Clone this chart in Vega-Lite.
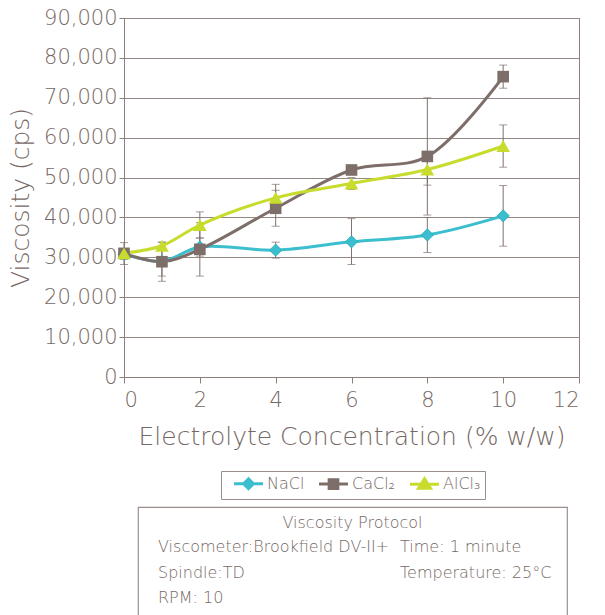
{
  "$schema": "https://vega.github.io/schema/vega-lite/v6.json",
  "background": "white",
  "padding": {"left": 8, "top": 6, "right": 5, "bottom": 0},
  "config": {
    "font": "DejaVu Sans",
    "view": {"stroke": null},
    "axis": {
      "labelColor": "#766864",
      "titleColor": "#766864",
      "domainColor": "#8c7f7b",
      "tickColor": "#8c7f7b",
      "gridColor": "#948885",
      "labelFontWeight": 200,
      "titleFontWeight": 200
    },
    "axisY": {
      "values": [0, 10000, 20000, 30000, 40000, 50000, 60000, 70000, 80000, 90000],
      "labelExpr": "format(datum.value, ',')",
      "grid": true,
      "gridWidth": 1.2,
      "labelFontSize": 21,
      "titleFontSize": 25,
      "tickSize": 5,
      "labelPadding": 2,
      "titlePadding": 10
    },
    "legend": {"labelColor": "#766864", "labelFontWeight": 200},
    "title": {"color": "#766864", "fontWeight": 200}
  },
  "spacing": 56,
  "vconcat": [
    {
      "width": 455,
      "height": 359,
      "view": {"stroke": "#8c7f7b", "strokeWidth": 1},
      "data": {
        "values": [
          {"series": "NaCl", "conc": 0, "visc": 30800, "lo": 29500, "hi": 32100},
          {"series": "NaCl", "conc": 1, "visc": 29000, "lo": 25300, "hi": 32700},
          {"series": "NaCl", "conc": 2, "visc": 32600, "lo": 30300, "hi": 34900},
          {"series": "NaCl", "conc": 4, "visc": 31800, "lo": 29800, "hi": 33800},
          {"series": "NaCl", "conc": 6, "visc": 33900, "lo": 28200, "hi": 39700},
          {"series": "NaCl", "conc": 8, "visc": 35600, "lo": 31200, "hi": 40000},
          {"series": "NaCl", "conc": 10, "visc": 40400, "lo": 32800, "hi": 48000},
          {"series": "CaCl₂", "conc": 0, "visc": 31000, "lo": 28200, "hi": 33700},
          {"series": "CaCl₂", "conc": 1, "visc": 28900, "lo": 24000, "hi": 33800},
          {"series": "CaCl₂", "conc": 2, "visc": 32000, "lo": 25300, "hi": 38700},
          {"series": "CaCl₂", "conc": 4, "visc": 42300, "lo": 37800, "hi": 46800},
          {"series": "CaCl₂", "conc": 6, "visc": 51900, "lo": 51400, "hi": 52400},
          {"series": "CaCl₂", "conc": 8, "visc": 55300, "lo": 40600, "hi": 70000},
          {"series": "CaCl₂", "conc": 10, "visc": 75300, "lo": 72400, "hi": 78200},
          {"series": "AlCl₃", "conc": 0, "visc": 31000, "lo": 30200, "hi": 31800},
          {"series": "AlCl₃", "conc": 1, "visc": 32900, "lo": 32000, "hi": 33800},
          {"series": "AlCl₃", "conc": 2, "visc": 38100, "lo": 34800, "hi": 41400},
          {"series": "AlCl₃", "conc": 4, "visc": 44900, "lo": 41500, "hi": 48300},
          {"series": "AlCl₃", "conc": 6, "visc": 48500, "lo": 47000, "hi": 50000},
          {"series": "AlCl₃", "conc": 8, "visc": 52000, "lo": 48100, "hi": 55900},
          {"series": "AlCl₃", "conc": 10, "visc": 57900, "lo": 52600, "hi": 63200}
        ]
      },
      "encoding": {
        "x": {
          "field": "conc",
          "type": "quantitative",
          "title": "Electrolyte Concentration (% w/w)",
          "scale": {"domain": [0, 12], "nice": false},
          "axis": {
            "values": [0, 2, 4, 6, 8, 10, 12],
            "grid": false,
            "labelFontSize": 21,
            "titleFontSize": 25,
            "tickSize": 6,
            "labelPadding": 6,
            "titlePadding": 14
          }
        }
      },
      "layer": [
        {
          "mark": {"type": "rule", "color": "#7f716d", "strokeWidth": 1},
          "encoding": {
            "y": {"field": "lo", "type": "quantitative", "title": "Viscosity (cps)", "scale": {"domain": [0, 90000], "nice": false}},
            "y2": {"field": "hi"}
          }
        },
        {
          "mark": {"type": "tick", "orient": "horizontal", "color": "#7f716d", "size": 8, "thickness": 1},
          "encoding": {
            "y": {"field": "lo", "type": "quantitative", "title": "Viscosity (cps)"}
          }
        },
        {
          "mark": {"type": "tick", "orient": "horizontal", "color": "#7f716d", "size": 8, "thickness": 1},
          "encoding": {
            "y": {"field": "hi", "type": "quantitative", "title": "Viscosity (cps)"}
          }
        },
        {
          "mark": {"type": "line", "interpolate": "catmull-rom", "strokeWidth": 3},
          "encoding": {
            "y": {"field": "visc", "type": "quantitative", "title": "Viscosity (cps)"},
            "color": {
              "field": "series",
              "type": "nominal",
              "sort": ["NaCl", "CaCl₂", "AlCl₃"],
              "scale": {"domain": ["NaCl", "CaCl₂", "AlCl₃"], "range": ["#3bbfcf", "#7d6e69", "#c8dc2e"]},
              "legend": {
                "title": null,
                "orient": "none",
                "legendX": 97,
                "legendY": 453,
                "direction": "horizontal",
                "strokeColor": "#9a8e8a",
                "padding": 4,
                "labelFontSize": 16,
                "labelOffset": 10,
                "symbolOffset": 15,
                "columnPadding": 5,
                "symbolSize": 196,
                "symbolStrokeWidth": 3,
                "encode": {
                  "symbols": {
                    "update": {
                      "shape": {"signal": "datum.value === 'NaCl' ? 'M-2.07,0H2.07M0,-0.7L0.7,0L0,0.7L-0.7,0Z' : datum.value === 'AlCl₃' ? 'M-2.07,0H2.07M0,-0.75L0.85,0.6H-0.85Z' : 'M-2.07,0H2.07M-0.62,-0.62H0.62V0.62H-0.62Z'"},
                      "fill": {"signal": "datum.value === 'NaCl' ? '#3bbfcf' : datum.value === 'AlCl₃' ? '#c8dc2e' : '#7d6e69'"},
                      "fillOpacity": {"value": 1}
                    }
                  }
                }
              }
            }
          }
        },
        {
          "transform": [{"filter": "datum.series === 'NaCl'"}],
          "mark": {"type": "point", "filled": true, "opacity": 1, "shape": "diamond", "size": 150, "color": "#3bbfcf", "stroke": "#2aa8b8", "strokeWidth": 0.8},
          "encoding": {"y": {"field": "visc", "type": "quantitative", "title": "Viscosity (cps)"}}
        },
        {
          "transform": [{"filter": "datum.series === 'CaCl₂'"}],
          "mark": {"type": "point", "filled": true, "opacity": 1, "shape": "square", "size": 135, "color": "#7d6e69"},
          "encoding": {"y": {"field": "visc", "type": "quantitative", "title": "Viscosity (cps)"}}
        },
        {
          "transform": [{"filter": "datum.series === 'AlCl₃'"}],
          "mark": {"type": "point", "filled": true, "opacity": 1, "shape": "triangle-up", "size": 190, "color": "#c8dc2e"},
          "encoding": {"y": {"field": "visc", "type": "quantitative", "title": "Viscosity (cps)"}}
        }
      ]
    },
    {
      "spacing": 12,
      "hconcat": [
        {
          "width": 1,
          "height": 110,
          "data": {"values": []},
          "mark": "text"
        },
        {
          "width": 429,
          "height": 110,
          "view": {"stroke": "#9a8e8a", "strokeWidth": 1.2},
          "title": {"text": "Viscosity Protocol", "orient": "top", "anchor": "middle", "frame": "group", "offset": -40, "fontSize": 16, "baseline": "bottom"},
          "data": {
            "values": [
              {"text": "Viscometer:Brookfield DV-II+", "col": "left", "line": 1},
              {"text": "Time: 1 minute", "col": "right", "line": 1},
              {"text": "Spindle:TD", "col": "left", "line": 2},
              {"text": "Temperature: 25°C", "col": "right", "line": 2},
              {"text": "RPM: 10", "col": "left", "line": 3}
            ]
          },
          "mark": {"type": "text", "align": "left", "baseline": "middle", "fontSize": 16, "color": "#766864", "fontWeight": 200},
          "encoding": {
            "x": {"field": "col", "type": "nominal", "scale": {"type": "point", "domain": ["left", "right"], "range": [20, 262], "padding": 0}, "axis": null},
            "y": {"field": "line", "type": "ordinal", "scale": {"type": "point", "domain": [1, 2, 3], "range": [40, 91], "padding": 0}, "axis": null},
            "text": {"field": "text"}
          }
        }
      ]
    }
  ]
}
